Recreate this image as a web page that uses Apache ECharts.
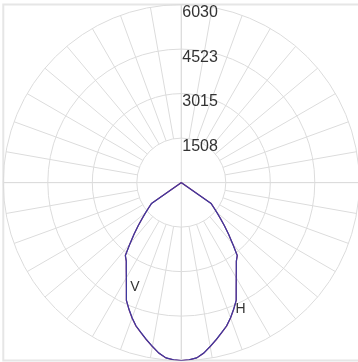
<!DOCTYPE html>
<html>
<head>
<meta charset="utf-8">
<script src="https://cdn.jsdelivr.net/npm/echarts@6/dist/echarts.min.js"></script>
<style>
html,body{margin:0;padding:0;background:#fff;}
#chart{width:358px;height:362px;}
</style>
</head>
<body>
<div id="chart"></div>
<script>
// gamma angle from nadir (positive = left side of the diagram)
const gammaAngles = [-60,-57.5,-55,-52.5,-50,-47.5,-45,-42.5,-40,-37.5,-35,-32.5,-30,-27.5,-25,-22.5,-20,-17.5,-15,-12.5,-10,-7.5,-5,-2.5,0,2.5,5,7.5,10,12.5,15,17.5,20,22.5,25,27.5,30,32.5,35,37.5,40,42.5,45,47.5,50,52.5,55,57.5,60];
// luminous intensity (cd)
const seriesV = [0,0,1236,1389,1575,1795,2066,2371,2710,3117,3252,3472,3726,4031,4404,4641,4878,5098,5268,5454,5640,5827,5962,6010,6030,6010,5962,5827,5640,5454,5268,5098,4878,4641,4404,4031,3726,3472,3252,3117,2710,2371,2066,1795,1575,1389,1236,0,0];
const seriesH = [0,0,1230,1384,1570,1790,2060,2365,2705,3110,3248,3468,3720,4025,4398,4636,4873,5093,5263,5450,5636,5824,5960,6008,6030,6008,5960,5824,5636,5450,5263,5093,4873,4636,4398,4025,3720,3468,3248,3110,2705,2365,2060,1790,1570,1384,1230,0,0];
const ringValues = [1507.5, 3015, 4522.5, 6030];
const ringLabels = ['1508', '3015', '4523', '6030'];
const maxValue = 6030;
const labelV = {name: 'V', gamma: 30};
const labelH = {name: 'H', gamma: -20};

function buildData(values, lbl, labelOpts) {
  return gammaAngles.map(function (g, i) {
    const item = {value: [values[i], 180 + g]};
    if (g === lbl.gamma) {
      item.label = Object.assign({show: true, formatter: lbl.name}, labelOpts);
    }
    return item;
  });
}

const chart = echarts.init(document.getElementById('chart'), null, {renderer: 'canvas'});
const cx = 181.3, cy = 182.6, R = 178, R0 = 44.5;
const gridColor = '#dcdcdc';
const font = 'Liberation Sans, Arial, sans-serif';

chart.setOption({
  animation: false,
  graphic: [{
    type: 'rect', silent: true, z: -10,
    shape: {x: cx - R, y: cy - R, width: 2 * R, height: 2 * R},
    style: {fill: 'none', stroke: '#e6e6e6', lineWidth: 2}
  }],
  polar: [
    {center: [cx, cy], radius: [R0, R]},
    {center: [cx, cy], radius: [0, R]}
  ],
  angleAxis: [
    {polarIndex: 0, type: 'value', min: 0, max: 360, interval: 10, startAngle: 90, clockwise: true,
     axisLine: {show: false}, axisTick: {show: false}, axisLabel: {show: false},
     splitLine: {show: true, lineStyle: {color: gridColor, width: 1}}},
    {polarIndex: 1, type: 'value', min: 0, max: 360, interval: 90, startAngle: 90, clockwise: true,
     axisLine: {show: false}, axisTick: {show: false}, axisLabel: {show: false},
     splitLine: {show: true, lineStyle: {color: gridColor, width: 1}}}
  ],
  radiusAxis: [
    {polarIndex: 0, type: 'value', min: 0, max: maxValue, show: false,
     splitLine: {show: false}, axisLine: {show: false}, axisTick: {show: false}, axisLabel: {show: false}},
    {polarIndex: 1, type: 'value', min: 0, max: maxValue, interval: 1507.5,
     axisLine: {show: false}, axisTick: {show: false},
     splitLine: {show: true, lineStyle: {color: gridColor, width: 1}},
     axisLabel: {
       show: true, showMinLabel: false, color: '#333', fontSize: 16, fontFamily: font,
       margin: -1, align: 'left', verticalAlign: 'top',
       formatter: function (v) {
         const idx = ringValues.findIndex(function (r) { return Math.abs(r - v) < 1; });
         return idx >= 0 ? ringLabels[idx] : '';
       }
     }}
  ],
  series: [
    {type: 'line', coordinateSystem: 'polar', polarIndex: 1, symbol: 'circle', symbolSize: 0.001,
     showSymbol: true, showAllSymbol: true, smooth: false,
     lineStyle: {color: '#8a3478', width: 1.3}, itemStyle: {color: '#8a3478'},
     label: {show: false},
     data: buildData(seriesV, labelV, {position: 'right', distance: 4, offset: [0, 9], color: '#333', fontSize: 14, fontFamily: font}),
     z: 3},
    {type: 'line', coordinateSystem: 'polar', polarIndex: 1, symbol: 'circle', symbolSize: 0.001,
     showSymbol: true, showAllSymbol: true, smooth: false,
     lineStyle: {color: '#3c3aa0', width: 1.1}, itemStyle: {color: '#3c3aa0'},
     label: {show: false},
     data: buildData(seriesH, labelH, {position: 'right', distance: 5, offset: [0, -9], color: '#333', fontSize: 14, fontFamily: font}),
     z: 4}
  ]
});
</script>
</body>
</html>
